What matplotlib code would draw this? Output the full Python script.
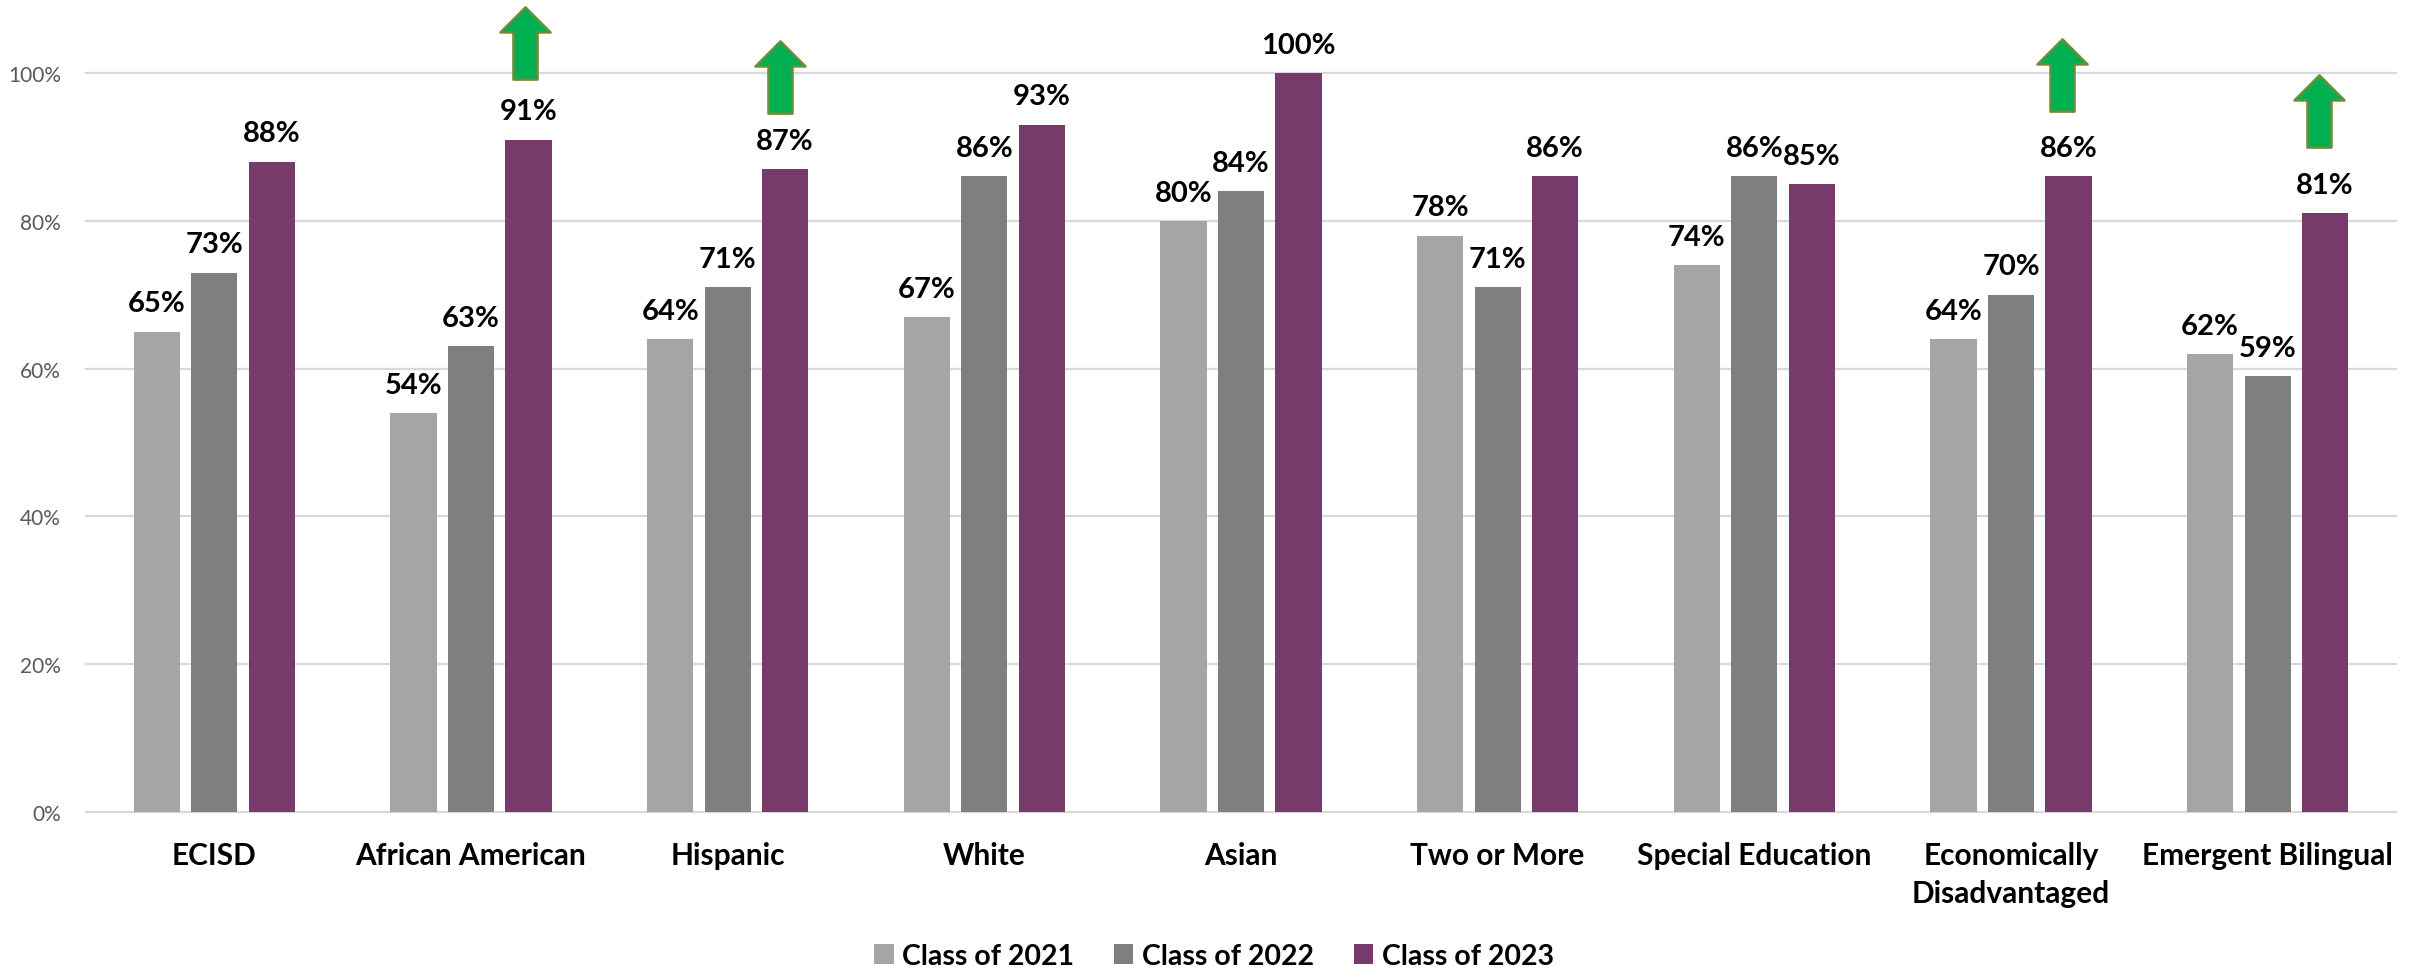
import matplotlib
matplotlib.use("Agg")
import matplotlib.pyplot as plt
from matplotlib.path import Path
from matplotlib.patches import Patch
import numpy as np

plt.rcParams['font.family'] = ['Lato', 'DejaVu Sans']

categories = ["ECISD", "African American", "Hispanic", "White", "Asian", "Two or More",
              "Special Education", "Economically\nDisadvantaged", "Emergent Bilingual"]
class_2021 = [65, 54, 64, 67, 80, 78, 74, 64, 62]
class_2022 = [73, 63, 71, 86, 84, 71, 86, 70, 59]
class_2023 = [88, 91, 87, 93, 100, 86, 85, 86, 81]
series = ["Class of 2021", "Class of 2022", "Class of 2023"]
arrow_categories = [1, 2, 7, 8]
arrow_offsets = [0.21, 0.205, 0.20, 0.20]
arrow_centres = [104.1, 99.5, 99.7, 94.9]
yticks = [0, 20, 40, 60, 80, 100]

colors = ["#A5A5A5", "#7F7F7F", "#783A6B"]

W, H = 2420, 970
fig = plt.figure(figsize=(W / 100, H / 100), dpi=100)
L, R, T, B = 86, 2396, 74, 813
ax = fig.add_axes([L / W, 1 - B / H, (R - L) / W, (B - T) / H])

x = np.arange(len(categories))
step = 0.224
bw = 0.18
for i, (vals, c, name) in enumerate(zip([class_2021, class_2022, class_2023], colors, series)):
    xs = x + (i - 1) * step
    ax.bar(xs, vals, bw, color=c, label=name, zorder=3)
    for xi, v in zip(xs, vals):
        ax.annotate(f"{v}%", (xi, v), xytext=(0, 11), textcoords="offset points",
                    ha="center", va="bottom", fontsize=21, fontweight="bold",
                    color="black", annotation_clip=False, zorder=5)

ax.set_xlim(-0.5, len(categories) - 0.5)
ax.set_ylim(0, 100)
ax.set_yticks(yticks)
ax.set_yticklabels([f"{t}%" for t in yticks], fontsize=15, color="#595959")
ax.set_xticks(x)
ax.set_xticklabels(categories, fontsize=21.5, fontweight="bold", color="black", linespacing=1.42, va="top")
ax.tick_params(axis="both", length=0)
ax.tick_params(axis="x", pad=21)
ax.tick_params(axis="y", pad=18)
ax.grid(axis="y", color="#D9D9D9", linewidth=1.6, zorder=0)
ax.set_axisbelow(True)
for s in ax.spines.values():
    s.set_visible(False)
for line in ax.get_ygridlines():
    line.set_clip_on(False)

# Up arrow marker: anchored on the data, shape fixed in screen units
arrow_path = Path([(-12, -36), (-12, 11), (-25, 11), (0, 36), (25, 11), (12, 11), (12, -36), (-12, -36)], closed=True)
ax.plot([x[i] + d for i, d in zip(arrow_categories, arrow_offsets)], arrow_centres, linestyle="none",
        marker=arrow_path, markersize=52, markerfacecolor="#00B050",
        markeredgecolor="#6B8E3A", markeredgewidth=1.8, clip_on=False, zorder=6)

handles = [Patch(facecolor=c, label=s) for c, s in zip(colors, series)]
fig.legend(handles=handles, loc="center", bbox_to_anchor=(1214 / W, 1 - 957 / H), ncol=3, frameon=False,
           prop=dict(size=20.5, weight="bold"), handlelength=0.68, handleheight=0.68, handletextpad=0.3,
           columnspacing=1.4, borderpad=0)

fig.savefig("out.png", dpi=100)
